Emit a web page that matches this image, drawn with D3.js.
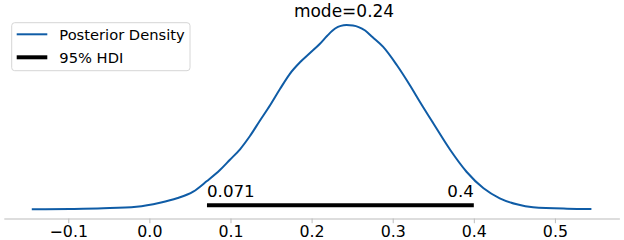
<!DOCTYPE html>
<html>
<head>
<meta charset="utf-8">
<script src="https://cdn.jsdelivr.net/npm/d3@7"></script>
<style>
  body { margin: 0; background: #fff; }
  svg { display: block; font-family: "DejaVu Sans", sans-serif; }
</style>
</head>
<body>
<svg id="viz" width="624" height="240"></svg>
<script>
// posterior density
const xValues = [-0.145, -0.098, -0.057, -0.016, 0.013, 0.034, 0.054, 0.071, 0.087, 0.099,
  0.112, 0.124, 0.136, 0.149, 0.161, 0.173, 0.186, 0.198, 0.210, 0.219, 0.229, 0.236,
  0.243, 0.251, 0.258, 0.266, 0.275, 0.288, 0.305, 0.321, 0.334, 0.350, 0.371, 0.391,
  0.412, 0.432, 0.453, 0.473, 0.515, 0.545];
const densities = [0.021, 0.029, 0.045, 0.083, 0.178, 0.283, 0.440, 0.694, 0.956, 1.194,
  1.455, 1.764, 2.121, 2.501, 2.881, 3.238, 3.523, 3.737, 3.951, 4.141, 4.320, 4.383,
  4.402, 4.390, 4.355, 4.272, 4.118, 3.888, 3.452, 2.977, 2.561, 2.067, 1.431, 0.915,
  0.521, 0.283, 0.140, 0.069, 0.036, 0.029];

const hdi = [0.071, 0.4];
const hdiLabels = ["0.071", "0.4"];
const modeValue = 0.24;
const modeLabel = "mode=0.24";
const xTicks = [-0.1, 0.0, 0.1, 0.2, 0.3, 0.4, 0.5];
const legendLabels = ["Posterior Density", "95% HDI"];

const BLUE = "#0f5ca6";
const HDI_Y = 0.12;
const TEXT_Y = 0.31;

const svg = d3.select("#viz");
const margin = { left: 3.8, right: 4.6, top: 17.3, bottom: 21.5 };
const width = +svg.attr("width");
const height = +svg.attr("height");

const x = d3.scaleLinear()
  .domain([-0.1795, 0.5795])
  .range([margin.left, width - margin.right]);

const y = d3.scaleLinear()
  .domain([-0.197, 4.587])
  .range([height - margin.bottom, margin.top]);

// bottom axis only, others hidden like the original
const axis = svg.append("g")
  .attr("transform", `translate(0,${height - margin.bottom})`)
  .call(d3.axisBottom(x)
    .tickValues(xTicks)
    .tickFormat(d3.format(".1f"))
    .tickSizeInner(4.7)
    .tickSizeOuter(0)
    .tickPadding(2.6));
axis.select(".domain").attr("stroke", "#bcbcbc").attr("stroke-width", 1.1);
axis.selectAll(".tick line").attr("stroke", "#bcbcbc");
axis.selectAll(".tick text")
  .attr("fill", "#000")
  .attr("font-size", 15.8)
  .attr("font-family", "DejaVu Sans");

// density curve
const line = d3.line()
  .x((d, i) => x(xValues[i]))
  .y(d => y(d))
  .curve(d3.curveMonotoneX);

svg.append("path")
  .datum(densities)
  .attr("fill", "none")
  .attr("stroke", BLUE)
  .attr("stroke-width", 2)
  .attr("d", line);

// HDI bar + labels
svg.append("line")
  .attr("x1", x(hdi[0]))
  .attr("x2", x(hdi[1]))
  .attr("y1", y(HDI_Y))
  .attr("y2", y(HDI_Y))
  .attr("stroke", "#000")
  .attr("stroke-width", 4);

svg.selectAll(".hdi-label")
  .data(hdi)
  .join("text")
  .attr("class", "hdi-label")
  .attr("x", d => x(d))
  .attr("y", y(TEXT_Y))
  .attr("text-anchor", (d, i) => i === 0 ? "start" : "end")
  .attr("font-size", 16.7)
  .text((d, i) => hdiLabels[i]);

// point estimate text
svg.append("text")
  .attr("x", x(modeValue))
  .attr("y", margin.top)
  .attr("text-anchor", "middle")
  .attr("font-size", 17)
  .text(modeLabel);

// legend
const legend = svg.append("g").attr("transform", "translate(11.7,22.7)");
legend.append("rect")
  .attr("width", 178.3)
  .attr("height", 48)
  .attr("rx", 3)
  .attr("fill", "#fff")
  .attr("fill-opacity", 0.8)
  .attr("stroke", "#d6d6d6");

const items = legend.selectAll(".item")
  .data(legendLabels)
  .join("g")
  .attr("class", "item")
  .attr("transform", (d, i) => `translate(0,${11.6 + i * 23})`);

items.append("line")
  .attr("x1", 5)
  .attr("x2", 35.6)
  .attr("stroke", (d, i) => i === 0 ? BLUE : "#000")
  .attr("stroke-width", (d, i) => i === 0 ? 2 : 4);

items.append("text")
  .attr("x", 47.6)
  .attr("y", 5.3)
  .attr("font-size", 14.7)
  .text(d => d);
</script>
</body>
</html>
